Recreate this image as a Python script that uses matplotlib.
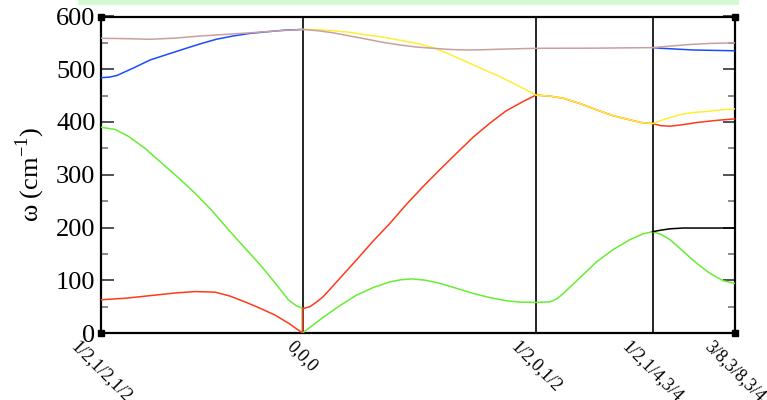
import matplotlib
matplotlib.use("Agg")
import matplotlib.pyplot as plt
import numpy as np

# k-path coordinates (arbitrary path-distance units)
kpoints = [0.0, 2.015, 4.35, 5.515, 6.34]
klabels = ["1/2,1/2,1/2", "0,0,0", "1/2,0,1/2", "1/2,1/4,3/4", "3/8,3/8,3/4"]

nan = np.nan

# Branch data (frequency in cm^-1)
green_k = [0.0, 0.14, 0.273, 0.44, 0.607, 0.77, 0.94, 1.11, 1.273, 1.44, 1.607, 1.74, 1.873, 1.95, 2.015, 2.015,
           2.12, 2.223, 2.39, 2.557, 2.72, 2.89, 3.0, 3.107, 3.25, 3.39, 3.55, 3.723, 3.89, 4.057, 4.2, 4.35,
           4.49, 4.56, 4.623, 4.79, 4.957, 5.12, 5.29, 5.42, 5.515,
           5.6, 5.69, 5.82, 5.957, 6.09, 6.223, 6.34]
green_w = [390, 386, 373, 350, 322, 295, 265, 232, 196, 161, 126, 95, 63, 52, 47, 0,
           15, 30, 52, 72, 86, 97, 101, 102.5, 100, 94, 85, 75, 67, 61, 58.5, 58,
           59, 65, 75, 105, 135, 158, 177, 188, 192,
           187, 177, 155, 132, 113, 99, 94]

red_k = [0.0, 0.25, 0.5, 0.75, 0.94, 1.14, 1.29, 1.44, 1.59, 1.74, 1.88, 2.015, 2.015,
         2.09, 2.15, 2.223, 2.39, 2.557, 2.72, 2.89, 3.05, 3.223, 3.39, 3.557, 3.72, 3.89, 4.05, 4.223, 4.35,
         4.49, 4.623, 4.79, 4.957, 5.12, 5.29, 5.4, 5.515,
         5.6, 5.69, 5.82, 5.957, 6.15, 6.34]
red_w = [63, 66, 71, 76, 78.5, 77.5, 70, 59, 47, 34, 18, 0, 46,
         50, 58, 69, 104, 139, 174, 208, 243, 278, 310, 341, 371, 398, 421, 439, 451,
         449, 445, 435, 423, 412, 404, 399, 397,
         393, 392, 395, 399, 403, 406]

yellow_k = [2.015, 2.15, 2.323, 2.49, 2.657, 2.82, 2.99, 3.16, 3.323, 3.49, 3.657, 3.82, 3.99, 4.17, 4.35,
            4.49, 4.623, 4.79, 4.957, 5.12, 5.29, 5.4, 5.515,
            5.65, 5.79, 5.92, 6.057, 6.2, 6.34]
yellow_w = [575.5, 575, 573, 570, 565, 561, 555, 549, 541, 528, 514, 500, 486, 469, 451,
            449, 445, 435, 423, 412, 404, 399, 397,
            406, 414, 418, 420, 423, 425]

brown_k = [0.0, 0.25, 0.49, 0.74, 0.99, 1.24, 1.49, 1.74, 2.015,
           2.17, 2.323, 2.49, 2.657, 2.82, 2.99, 3.16, 3.323, 3.49, 3.657, 3.82, 3.99, 4.35,
           4.923, 5.515, 5.7, 5.89, 6.1, 6.34]
brown_w = [558.7, 558, 556.8, 559, 563, 566, 569, 572.5, 575.5,
           573, 569, 563, 557, 551, 546, 542, 539.7, 537.5, 536.5, 537, 538, 539.7,
           540, 541, 544, 547, 549, 550]

blue_k = [0.0, 0.08, 0.157, 0.32, 0.49, 0.66, 0.823, 0.99, 1.157, 1.32, 1.49, 1.657, 1.83, 2.015, nan,
          5.515, 5.607, 5.923, 6.34]
blue_w = [484, 485, 488, 502, 517.5, 528, 538, 548, 557, 563, 568, 571, 574, 575.5, nan,
          541, 539.7, 536.5, 535]

black_k = [5.515, 5.6, 5.69, 5.823, 6.34]
black_w = [192, 195, 197.5, 199, 199]

fig = plt.figure(figsize=(7.67, 4.0), dpi=100)
ax = fig.add_axes([101/767, 1-333/400, (735-101)/767, (333-16.5)/400])

# light green strip at the top of the image
fig.patches.append(plt.Rectangle((78/767, 1-5/400), (739-78)/767, 5/400,
                                 transform=fig.transFigure, facecolor="#d4fad4",
                                 edgecolor="none"))

lw = 1.1
ax.plot(green_k, green_w, color="#66ee33", lw=lw, zorder=3)
ax.plot(red_k, red_w, color="#ff3a1a", lw=lw, zorder=3)
ax.plot(black_k, black_w, color="black", lw=lw, zorder=3)
ax.plot(blue_k, blue_w, color="#1a4cff", lw=lw, zorder=3)
ax.plot(yellow_k, yellow_w, color="#ffee33", lw=lw, zorder=4)
ax.plot(brown_k, brown_w, color="#c8a0a0", lw=lw, zorder=5)

for kp in kpoints[1:-1]:
    ax.axvline(kp, color="black", lw=1.2, zorder=2)

ax.set_xlim(kpoints[0], kpoints[-1])
ax.set_ylim(0, 600)

for s in ax.spines.values():
    s.set_linewidth(1.6)
    s.set_color("black")

serif = ["Liberation Serif", "DejaVu Serif"]

ax.set_yticks(np.arange(0, 601, 100))
ax.set_yticks(np.arange(50, 600, 100), minor=True)
ax.tick_params(axis="y", which="major", direction="in", length=9, width=1.2,
               color="#333333", left=True, right=True, labelsize=19, pad=4)
ax.tick_params(axis="y", which="minor", direction="in", length=5, width=1.2,
               color="#777777", left=True, right=True)
for t in ax.get_yticklabels():
    t.set_fontfamily(serif)

ax.set_xticks(kpoints)
ax.set_xticklabels([])
ax.tick_params(axis="x", which="both", length=0)
for kp, lab in zip(kpoints, klabels):
    ax.annotate(lab, xy=(kp, 0), xycoords=("data", "axes fraction"),
                xytext=(0, -5), textcoords="offset pixels",
                rotation=-45, ha="center", va="top", fontsize=13,
                fontfamily=serif, annotation_clip=False)

ax.set_ylabel("ω (cm$^{\\mathregular{-1}}$)", fontsize=19, fontfamily=serif)
ax.yaxis.set_label_coords(-(101-47)/634, 0.5)

# corner markers
ax.plot([0, 1, 0, 1], [0, 0, 1, 1], transform=ax.transAxes, ls="none",
        marker="s", ms=4.5, mfc="black", mec="black", clip_on=False, zorder=6)

fig.savefig("out.png", dpi=100)
